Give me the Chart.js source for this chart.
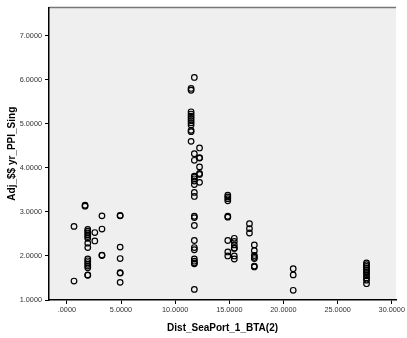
<!DOCTYPE html>
<html>
<head>
<meta charset="utf-8">
<script src="https://cdn.jsdelivr.net/npm/chart.js@4"></script>
<style>
  body { margin: 0; background: #fff; }
  #wrap { width: 407px; height: 338px; }
</style>
</head>
<body>
<div id="wrap"><canvas id="myChart" width="407" height="338"></canvas></div>
<script>
// distance clusters (x) and the PPI values found at each one (y)
const clusterX = [0.66, 1.68, 1.93, 2.58, 3.24, 4.92, 11.47, 11.77, 12.25, 14.86, 15.46, 16.86, 17.31, 20.9, 27.67];
const clusterY = [
  [2.67, 1.43],
  [3.15, 3.13],
  [2.6, 2.56, 2.52, 2.48, 2.44, 2.4, 2.29, 2.19, 1.93, 1.89, 1.85, 1.81, 1.77, 1.73, 1.57, 1.56],
  [2.53, 2.34],
  [2.91, 2.61, 2.01, 2.02],
  [2.91, 2.92, 2.2, 1.94, 1.62, 1.61, 1.4],
  [5.8, 5.76, 5.27, 5.22, 5.17, 5.12, 5.07, 5.02, 4.97, 4.85, 4.82, 4.6],
  [6.05, 4.32, 4.17, 3.81, 3.79, 3.75, 3.7, 3.62, 3.44, 3.35, 2.9, 2.87, 2.69, 2.35, 2.19, 2.14, 1.93, 1.88, 1.84, 1.82, 1.24],
  [4.45, 4.23, 4.22, 4.02, 3.87, 3.85, 3.67],
  [3.38, 3.34, 3.3, 3.25, 2.9, 2.88, 2.35, 2.09, 2.0],
  [2.4, 2.33, 2.25, 2.18, 2.17, 2.0, 1.93],
  [2.73, 2.62, 2.52],
  [2.25, 2.12, 2.01, 1.97, 1.94, 1.77, 1.75],
  [1.71, 1.57, 1.22],
  [1.84, 1.8, 1.76, 1.72, 1.68, 1.64, 1.6, 1.55, 1.5, 1.45, 1.37]
];
const xTicks = [0, 5, 10, 15, 20, 25, 30];
const yTicks = [1, 2, 3, 4, 5, 6, 7];

let points = [];
clusterX.forEach((x, i) => {
  clusterY[i].forEach((y) => points.push({ x: x, y: y }));
});

// SPSS style number: ".0000", "5.0000"
function fmt(v) {
  let s = Number(v).toFixed(4);
  return s.startsWith("0.") ? s.slice(1) : s;
}

const plotBg = {
  id: "plotBg",
  beforeDraw(chart) {
    const { ctx, chartArea: a } = chart;
    ctx.save();
    ctx.fillStyle = "#efefef";
    ctx.fillRect(a.left, a.top, a.right - a.left, a.bottom - a.top);
    ctx.strokeStyle = "#777";
    ctx.lineWidth = 1.5;
    ctx.beginPath();
    ctx.moveTo(a.left, a.top);
    ctx.lineTo(a.right, a.top);
    ctx.stroke();
    ctx.restore();
  },
};

const tickFont = { family: "Liberation Sans", size: 7.3 };
const titleFont = { family: "Liberation Sans", size: 10, weight: "bold" };

new Chart(document.querySelector("#myChart"), {
  type: "scatter",
  data: {
    datasets: [
      {
        data: points,
        pointRadius: 2.8,
        pointBorderWidth: 1.2,
        borderColor: "#000",
        backgroundColor: "rgba(0,0,0,0)",
        pointHoverRadius: 2.8,
      },
    ],
  },
  options: {
    responsive: false,
    animation: false,
    layout: { padding: { top: 6, right: 2, left: 0, bottom: 0 } },
    plugins: { legend: { display: false }, tooltip: { enabled: false } },
    scales: {
      x: {
        type: "linear",
        min: -1.65,
        max: 30.4,
        afterFit: (s) => { s.height = 38; },
        afterBuildTicks: (s) => { s.ticks = xTicks.map((v) => ({ value: v })); },
        grid: { drawOnChartArea: false, tickLength: 4, color: "#000" },
        border: { color: "#000", width: 1.5 },
        ticks: { font: tickFont, color: "#333", padding: 2, maxRotation: 0, callback: fmt },
        title: {
          display: true,
          text: "Dist_SeaPort_1_BTA(2)",
          font: titleFont,
          color: "#000",
          padding: { top: 0, bottom: 4 },
        },
      },
      y: {
        min: 1,
        max: 7.64,
        afterFit: (s) => { s.width = 49; },
        afterBuildTicks: (s) => { s.ticks = yTicks.map((v) => ({ value: v })); },
        grid: { drawOnChartArea: false, tickLength: 4, color: "#000" },
        border: { color: "#000", width: 1.5 },
        ticks: { font: tickFont, color: "#333", padding: 3, callback: fmt },
        title: {
          display: true,
          text: "Adj_$$ yr_PPI_Sing",
          font: titleFont,
          color: "#000",
          padding: { top: 6, bottom: 0 },
        },
      },
    },
  },
  plugins: [plotBg],
});
</script>
</body>
</html>
